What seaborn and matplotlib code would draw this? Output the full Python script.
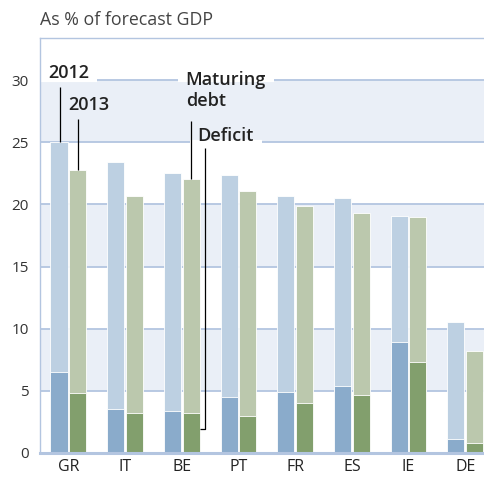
import numpy as np
import pandas as pd
import matplotlib
matplotlib.use('Agg')
import matplotlib.pyplot as plt
import seaborn as sns

# Datos (% del PIB previsto)
countries = ['GR', 'IT', 'BE', 'PT', 'FR', 'ES', 'IE', 'DE']
years = ['2012', '2013']
total_2012 = [25.0, 23.4, 22.5, 22.4, 20.7, 20.5, 19.1, 10.5]
total_2013 = [22.8, 20.7, 22.0, 21.1, 19.9, 19.3, 19.0, 8.2]
deficit_2012 = [6.5, 3.5, 3.4, 4.5, 4.9, 5.4, 8.9, 1.1]
deficit_2013 = [4.8, 3.2, 3.2, 3.0, 4.0, 4.7, 7.3, 0.8]

df = pd.DataFrame({
    'country': countries * 2,
    'year': [years[0]] * len(countries) + [years[1]] * len(countries),
    'total': total_2012 + total_2013,
    'deficit': deficit_2012 + deficit_2013,
})

sns.set_style('white')
plt.rcParams['font.family'] = ['Open Sans', 'DejaVu Sans']

grid_col = '#b3c5e0'
band_col = '#eaeff7'
text_col = '#333333'

fig = plt.figure(figsize=(4.84, 4.79), dpi=100)
ax = fig.add_axes([40 / 484, 26 / 479, 444 / 484, 415 / 479])

# Bandas alternas y líneas de cuadrícula
for lo in (5, 15, 25):
    ax.axhspan(lo, lo + 5, color=band_col, lw=0, zorder=0)
for y in range(5, 31, 5):
    ax.axhline(y, color=grid_col, lw=1.3, zorder=0.5)

bar_kw = dict(x='country', y='total', hue='year', hue_order=years, order=countries,
              width=0.66, gap=0.09, saturation=1, errorbar=None,
              edgecolor='white', linewidth=0.6, legend=False, ax=ax)
sns.barplot(data=df, palette=['#bdd0e2', '#bbc8ad'], zorder=2, **bar_kw)
bar_kw['y'] = 'deficit'
sns.barplot(data=df, palette=['#8aabcb', '#829f6d'], zorder=2.5, **bar_kw)

ax.set_xlim(-0.5, 7.33)
ax.set_ylim(0, 33.38)
ax.set_xlabel('')
ax.set_ylabel('')

for side in ('left', 'top'):
    ax.spines[side].set_color(grid_col)
    ax.spines[side].set_linewidth(1.0)
ax.spines['bottom'].set_color(grid_col)
ax.spines['bottom'].set_linewidth(2.2)
ax.spines['right'].set_visible(False)

ax.set_yticks(range(0, 31, 5))
ax.tick_params(axis='y', length=0, pad=8, labelsize=11, labelcolor=text_col)
ax.tick_params(axis='x', which='major', length=0, pad=4, labelsize=11.5, labelcolor='#222222')
ax.set_xticks(np.arange(0.5, 7, 1), minor=True)
ax.tick_params(axis='x', which='minor', length=20, width=1.5, color=grid_col, direction='out')

fig.text(40 / 484, 1 - 20 / 479, 'As % of forecast GDP', ha='left', va='center',
         fontsize=12.8, color='#444444')

# Etiquetas de anotación
lab_kw = dict(ha='left', va='center', fontsize=13, weight='semibold', color='#222222', zorder=4)
labels = [
    ax.text(-0.36, 30.57, '2012', **lab_kw),
    ax.text(-0.01, 28.0, '2013', **lab_kw),
    ax.text(2.07, 30.0, 'Maturing', **lab_kw),
    ax.text(2.07, 28.3, 'debt', **lab_kw),
    ax.text(2.28, 25.5, 'Deficit', **lab_kw),
]

# Huecos blancos en la cuadrícula detrás de las etiquetas
fig.canvas.draw()
renderer = fig.canvas.get_renderer()
inv = ax.transData.inverted()
for t in labels:
    bb = t.get_window_extent(renderer)
    (x0, y0), (x1, y1) = inv.transform([(bb.x0 - 8, bb.y0 - 2), (bb.x1 + 8, bb.y1 + 2)])
    for y in range(5, 31, 5):
        if y0 <= y <= y1:
            ax.hlines(y, x0, x1, color='white', lw=3, zorder=1)

# Líneas guía
line_kw = dict(color='black', lw=0.9, zorder=3, solid_capstyle='butt')
ax.plot([-0.146, -0.146], [29.4, total_2012[0]], **line_kw)
ax.plot([0.17, 0.17], [26.9, total_2013[0]], **line_kw)
ax.plot([2.16, 2.16], [26.7, total_2013[2]], **line_kw)
defy = 0.6 * deficit_2013[2]
ax.plot([2.41, 2.41, 2.315], [24.5, defy, defy], **line_kw)

fig.savefig('out.png', dpi=100)
